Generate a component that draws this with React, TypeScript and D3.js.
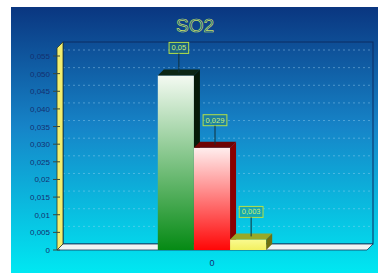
import React, { useRef, useEffect } from "react";
import * as d3 from "d3";

const categories = ["0"];
const seriesValues = [0.0495, 0.029, 0.003];
const seriesLabels = ["0,05", "0,029", "0,003"];
const yTickValues = [0, 0.005, 0.01, 0.015, 0.02, 0.025, 0.03, 0.035, 0.04, 0.045, 0.05, 0.055];
const yTickLabels = ["0", "0,005", "0,01", "0,015", "0,02", "0,025", "0,030", "0,035", "0,040", "0,045", "0,050", "0,055"];

const barColors = [
  { light: "#f4faf2", dark: "#058a14", top: "#0c2614", side: "#061a08" },
  { light: "#ffeeee", dark: "#ff0606", top: "#6e0404", side: "#8a0000" },
  { light: "#fafa90", dark: "#f2f060", top: "#98a828", side: "#6e7010" },
];

const App = () => {
  const svgRef = useRef(null);
  const width = 378;
  const height = 273;

  useEffect(() => {
    if (!svgRef.current) return;
    const svg = d3.select(svgRef.current);
    svg.selectAll("*").remove();

    const depth = 6;
    const left = 57;
    const right = 367;
    const bottom = 250;
    const topBack = 42;

    const defs = svg.append("defs");
    const bg = defs
      .append("linearGradient")
      .attr("id", "bg")
      .attr("x1", 0)
      .attr("y1", 0)
      .attr("x2", 0)
      .attr("y2", 1);
    bg.append("stop").attr("offset", 0).attr("stop-color", "#0a3680");
    bg.append("stop").attr("offset", 0.45).attr("stop-color", "#1684c8");
    bg.append("stop").attr("offset", 1).attr("stop-color", "#00e8f2");

    barColors.forEach((c, i) => {
      const g = defs
        .append("linearGradient")
        .attr("id", "bar" + i)
        .attr("x1", 0)
        .attr("y1", 0)
        .attr("x2", 0)
        .attr("y2", 1);
      g.append("stop").attr("offset", 0).attr("stop-color", c.light);
      g.append("stop").attr("offset", 1).attr("stop-color", c.dark);
    });

    // panel background
    svg
      .append("rect")
      .attr("x", 11)
      .attr("y", 7)
      .attr("width", width - 11)
      .attr("height", height - 7)
      .attr("fill", "url(#bg)");

    // title
    svg
      .append("text")
      .attr("x", 195)
      .attr("y", 32)
      .attr("text-anchor", "middle")
      .attr("font-family", "Liberation Sans, Arial, sans-serif")
      .attr("font-size", 19)
      .attr("fill", "none")
      .attr("stroke", "#c4e066")
      .attr("stroke-width", 0.7)
      .text("SO2");

    const yScale = d3.scaleLinear().domain([0, 0.055]).range([bottom, 56]);

    // back wall grid lines
    svg
      .append("g")
      .selectAll("line")
      .data(yTickValues.slice(1))
      .enter()
      .append("line")
      .attr("x1", left + depth)
      .attr("x2", right + depth)
      .attr("y1", (t) => yScale(t) - depth)
      .attr("y2", (t) => yScale(t) - depth)
      .attr("stroke", "#a8d8f4")
      .attr("stroke-opacity", 0.4)
      .attr("stroke-dasharray", "2,3")
      .attr("stroke-width", 1);

    // back wall frame
    svg
      .append("rect")
      .attr("x", left + depth)
      .attr("y", topBack)
      .attr("width", right - left)
      .attr("height", bottom - depth - topBack)
      .attr("fill", "none")
      .attr("stroke", "#0c2c62")
      .attr("stroke-width", 1);

    // floor
    svg
      .append("polygon")
      .attr(
        "points",
        [
          [left, bottom],
          [left + depth, bottom - depth],
          [right + depth, bottom - depth],
          [right, bottom],
        ].join(" ")
      )
      .attr("fill", "#eef4f4")
      .attr("stroke", "#1a3a5a")
      .attr("stroke-width", 0.8);

    // left wall
    svg
      .append("polygon")
      .attr(
        "points",
        [
          [left, bottom],
          [left + depth, bottom - depth],
          [left + depth, topBack],
          [left, topBack + depth],
        ].join(" ")
      )
      .attr("fill", "#f2ee70")
      .attr("stroke", "#2a3a2a")
      .attr("stroke-width", 0.8);

    // y axis ticks and labels
    const yAxis = svg.append("g");
    yAxis
      .selectAll("line")
      .data(yTickValues)
      .enter()
      .append("line")
      .attr("x1", left - 4)
      .attr("x2", left + 3)
      .attr("y1", (t) => yScale(t))
      .attr("y2", (t) => yScale(t))
      .attr("stroke", "#3a4a3a")
      .attr("stroke-width", 1);
    yAxis
      .selectAll("text")
      .data(yTickValues)
      .enter()
      .append("text")
      .attr("x", 50)
      .attr("y", (t) => yScale(t) + 3)
      .attr("text-anchor", "end")
      .attr("font-family", "Liberation Sans, Arial, sans-serif")
      .attr("font-size", 8)
      .attr("fill", "#143070")
      .text((t, i) => yTickLabels[i]);

    // bars
    const xScale = d3.scaleBand().domain(categories).range([left, right]).paddingOuter(0.93);
    const xInner = d3
      .scaleBand()
      .domain(seriesValues.map((v, i) => String(i)))
      .range([0, xScale.bandwidth()]);

    const bars = svg.append("g");
    categories.forEach((cat) => {
      seriesValues.forEach((v, i) => {
        const x = xScale(cat) + xInner(String(i));
        const w = xInner.bandwidth();
        const y = yScale(v);
        const c = barColors[i];
        bars
          .append("rect")
          .attr("x", x)
          .attr("y", y)
          .attr("width", w)
          .attr("height", bottom - y)
          .attr("fill", "url(#bar" + i + ")");
        bars
          .append("polygon")
          .attr(
            "points",
            [
              [x, y],
              [x + depth, y - depth],
              [x + w + depth, y - depth],
              [x + w, y],
            ].join(" ")
          )
          .attr("fill", c.top);
        bars
          .append("polygon")
          .attr(
            "points",
            [
              [x + w, y],
              [x + w + depth, y - depth],
              [x + w + depth, bottom - depth],
              [x + w, bottom],
            ].join(" ")
          )
          .attr("fill", c.side);

        // value mark
        const cx = x + w / 2 + depth / 2;
        const boxBottom = y - depth - 16;
        const label = bars
          .append("text")
          .attr("x", cx)
          .attr("y", boxBottom - 3)
          .attr("text-anchor", "middle")
          .attr("font-family", "Liberation Sans, Arial, sans-serif")
          .attr("font-size", 7.5)
          .attr("fill", "#c8f070")
          .text(seriesLabels[i]);
        const bb = label.node().getBBox();
        bars
          .append("line")
          .attr("x1", cx)
          .attr("x2", cx)
          .attr("y1", boxBottom)
          .attr("y2", y - depth / 2)
          .attr("stroke", "#10303a")
          .attr("stroke-width", 1);
        bars
          .insert("rect", () => label.node())
          .attr("x", bb.x - 2.5)
          .attr("y", boxBottom - 11)
          .attr("width", bb.width + 5)
          .attr("height", 11)
          .attr("fill", "#2a8060")
          .attr("fill-opacity", 0.35)
          .attr("stroke", "#b4e048")
          .attr("stroke-width", 1);
      });
    });

    // category label
    svg
      .append("g")
      .selectAll("text")
      .data(categories)
      .enter()
      .append("text")
      .attr("x", (c) => xScale(c) + xScale.bandwidth() / 2)
      .attr("y", 266)
      .attr("text-anchor", "middle")
      .attr("font-family", "Liberation Sans, Arial, sans-serif")
      .attr("font-size", 9)
      .attr("fill", "#143070")
      .text((c) => c);
  }, [width, height]);

  return (
    <svg
      ref={svgRef}
      width={width}
      height={height}
      style={{ position: "absolute", left: 0, top: 0, display: "block" }}
    />
  );
};

export default App;
